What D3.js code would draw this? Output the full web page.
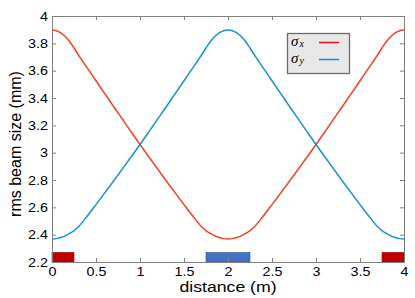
<!DOCTYPE html>
<html><head><meta charset="utf-8">
<script src="https://cdn.jsdelivr.net/npm/d3@7"></script>
<style>body{margin:0;background:#fff}svg{display:block}</style>
</head><body>
<svg id="c" width="415" height="298"></svg>
<script>
const distance = [0,0.05,0.1,0.15,0.2,0.25,0.3,0.4,0.5,0.6,0.7,0.8,0.9,1.0,1.1,1.2,1.3,1.4,1.5,1.6,1.7,1.75,1.8,1.85,1.9,1.95,2.0,
  2.05,2.1,2.15,2.2,2.25,2.3,2.4,2.5,2.6,2.7,2.8,2.9,3.0,3.1,3.2,3.3,3.4,3.5,3.6,3.7,3.75,3.8,3.85,3.9,3.95,4.0];
const sigmaX = [3.897,3.892,3.876,3.850,3.813,3.766,3.715,3.620,3.526,3.432,3.338,3.245,3.152,3.060,2.970,2.881,2.793,2.706,2.620,2.536,2.458,2.430,2.409,2.391,2.379,2.371,2.369,
  2.371,2.379,2.391,2.409,2.430,2.458,2.536,2.620,2.706,2.793,2.881,2.970,3.060,3.152,3.245,3.338,3.432,3.526,3.620,3.715,3.766,3.813,3.850,3.876,3.892,3.897];
const sigmaY = [2.369,2.371,2.379,2.391,2.409,2.430,2.458,2.536,2.620,2.706,2.793,2.881,2.970,3.060,3.152,3.245,3.338,3.432,3.526,3.620,3.715,3.766,3.813,3.850,3.876,3.892,3.897,
  3.892,3.876,3.850,3.813,3.766,3.715,3.620,3.526,3.432,3.338,3.245,3.152,3.060,2.970,2.881,2.793,2.706,2.620,2.536,2.458,2.430,2.409,2.391,2.379,2.371,2.369];
const quadStart = [0, 1.75, 3.75];
const quadEnd = [0.25, 2.25, 4.0];
const quadType = ["x", "y", "x"];
const quadTop = 2.27;
const xTicks = [0,0.5,1,1.5,2,2.5,3,3.5,4];
const xTickLabels = ["0","0.5","1","1.5","2","2.5","3","3.5","4"];
const yTicks = [2.2,2.4,2.6,2.8,3,3.2,3.4,3.6,3.8,4];
const yTickLabels = ["2.2","2.4","2.6","2.8","3","3.2","3.4","3.6","3.8","4"];

const W=415,H=298, m={l:52,r:11,t:16,b:36};
const svg=d3.select("#c");
const x=d3.scaleLinear().domain([0,4]).range([m.l,W-m.r]);
const y=d3.scaleLinear().domain([2.2,4]).range([H-m.b,m.t]);
const font="'Liberation Sans', Arial, Helvetica, sans-serif";
const sx=1.15;

// quads
svg.append("g").selectAll("rect").data(quadStart).join("rect")
  .attr("x",(d,i)=>x(d)).attr("width",(d,i)=>x(quadEnd[i])-x(d))
  .attr("y",y(quadTop)).attr("height",y(2.2)-y(quadTop))
  .attr("fill",(d,i)=>quadType[i]==="x"?"#c00000":"#4472c4")
  .attr("stroke",(d,i)=>quadType[i]==="x"?"#a00000":"#2f528f").attr("stroke-width",0.6);

const line=(vals)=>d3.line().x((d,i)=>x(distance[i])).y(d=>y(d)).curve(d3.curveMonotoneX)(vals);
svg.append("path").attr("d",line(sigmaX)).attr("fill","none").attr("stroke","#f2401e").attr("stroke-width",1.5);
svg.append("path").attr("d",line(sigmaY)).attr("fill","none").attr("stroke","#1a8fcf").attr("stroke-width",1.5);

// axes
const tl=4;
const ax=svg.append("g").attr("transform",`translate(0,${H-m.b})`)
  .call(d3.axisBottom(x).tickValues(xTicks).tickFormat((d,i)=>xTickLabels[i]).tickSizeInner(-tl).tickSizeOuter(0).tickPadding(5));
const axT=svg.append("g").attr("transform",`translate(0,${m.t})`)
  .call(d3.axisTop(x).tickValues(xTicks).tickFormat("").tickSizeInner(-tl).tickSizeOuter(0));
const ay=svg.append("g").attr("transform",`translate(${m.l},0)`)
  .call(d3.axisLeft(y).tickValues(yTicks).tickFormat((d,i)=>yTickLabels[i]).tickSizeInner(-tl).tickSizeOuter(0).tickPadding(3.5));
const ayR=svg.append("g").attr("transform",`translate(${W-m.r},0)`)
  .call(d3.axisRight(y).tickValues(yTicks).tickFormat("").tickSizeInner(-tl).tickSizeOuter(0));
[ax,axT,ay,ayR].forEach(g=>{
  g.selectAll(".domain").attr("stroke","#7f7f7f").attr("stroke-width",1);
  g.selectAll(".tick line").attr("stroke","#7f7f7f");
  g.selectAll("text").attr("font-family",font).attr("font-size",12.5).attr("fill","#000")
    .attr("transform",`scale(${sx},1)`);
});

svg.append("text").attr("transform",`translate(${(x(0)+x(4))/2},291.5) scale(1.22,1)`).attr("text-anchor","middle")
  .attr("font-family",font).attr("font-size",14.5).text("distance (m)");
svg.append("text").attr("transform",`translate(21,144) rotate(-90)`).attr("text-anchor","middle")
  .attr("font-family",font).attr("font-size",16).text("rms beam size (mm)");

// legend
const lg=svg.append("g");
lg.append("rect").attr("x",287.5).attr("y",33.5).attr("width",62).attr("height",40)
  .attr("fill","#e8e8e8").attr("stroke","#6a6a6a").attr("stroke-width",1.3);
const names=["x","y"], lcol=["#dd1020","#1a8fd0"];
const serif="'Liberation Serif', 'DejaVu Serif', serif";
names.forEach((n,i)=>{
  const yy=46+i*17;
  lg.append("text").attr("x",291).attr("y",yy).attr("font-family",serif).attr("font-style","italic").attr("font-size",15).text("σ");
  lg.append("text").attr("x",299.5).attr("y",yy+1).attr("font-family",serif).attr("font-style","italic").attr("font-size",10).text(n);
  lg.append("line").attr("x1",319).attr("x2",339).attr("y1",yy-3.5).attr("y2",yy-3.5).attr("stroke",lcol[i]).attr("stroke-width",1.5);
});
</script>
</body></html>
